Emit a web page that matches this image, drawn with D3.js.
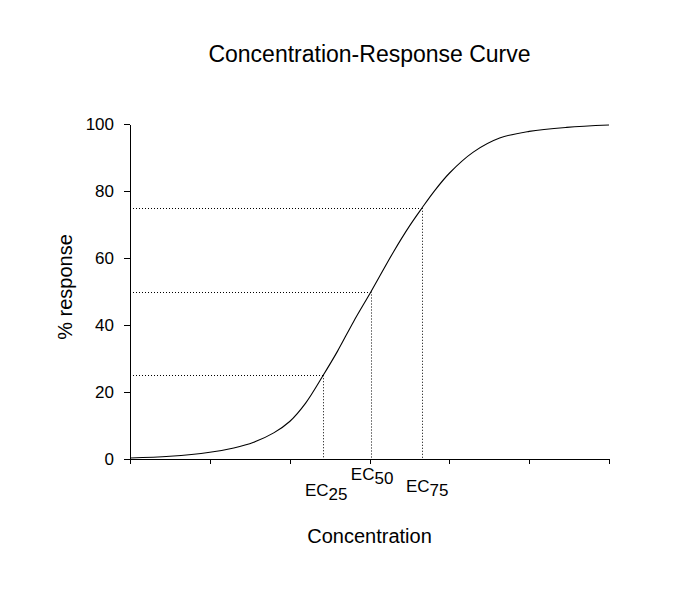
<!DOCTYPE html>
<html>
<head>
<meta charset="utf-8">
<script src="https://cdn.jsdelivr.net/npm/d3@7"></script>
<style>
  body { margin: 0; background: #fff; }
  text { font-family: "Liberation Sans", Arial, sans-serif; fill: #000; }
</style>
</head>
<body>
<div id="chart"></div>
<script>
// Valeurs
const concentration = [0, 0.5, 1, 1.3, 1.55, 1.8, 2, 2.2, 2.42, 2.6, 2.8, 3.02, 3.3, 3.5, 3.66, 3.8, 4, 4.3, 4.63, 5, 5.47, 6];
const response = [0.3, 0.8, 2.0, 3.3, 5.0, 7.8, 11.2, 16.7, 25, 32.2, 41, 50, 61.8, 69.5, 75, 79.6, 85.3, 91.6, 95.8, 97.8, 99.0, 99.7];

const ecNames = ['25', '50', '75'];
const ecConc = [2.42, 3.02, 3.66];
const ecResp = [25, 50, 75];

const yTicks = [0, 20, 40, 60, 80, 100];
const xTicks = [0, 1, 2, 3, 4, 5, 6];

const width = 699, height = 598;

const svg = d3.select('#chart')
    .append('svg')
    .attr('width', width)
    .attr('height', height);

// Echelles
const x = d3.scaleLinear().domain([0, 6]).range([130, 609]);
const y = d3.scaleLinear().domain([0, 100]).range([459, 124]);

// Titre
svg.append('text')
    .attr('x', 369.5)
    .attr('y', 61.5)
    .attr('text-anchor', 'middle')
    .style('font-size', '23px')
    .text('Concentration-Response Curve');

// Axe Y
const yAxis = svg.append('g')
    .attr('transform', `translate(${x(0)},0)`)
    .call(d3.axisLeft(y).tickValues(yTicks).tickSize(6).tickPadding(10).tickSizeOuter(0));
yAxis.selectAll('text').style('font-size', '17px').attr('dy', '0.35em');

// Axe X (sans libellés)
const xAxis = svg.append('g')
    .attr('transform', `translate(0,${y(0)})`)
    .call(d3.axisBottom(x).tickValues(xTicks).tickSize(5).tickFormat('').tickSizeOuter(0));

svg.selectAll('.domain, .tick line')
    .attr('stroke', '#000')
    .attr('stroke-width', 1)
    .attr('shape-rendering', 'crispEdges');

// Titres des axes
svg.append('text')
    .attr('transform', 'translate(72,287) rotate(-90)')
    .attr('text-anchor', 'middle')
    .style('font-size', '20px')
    .text('% response');

svg.append('text')
    .attr('x', 369.5)
    .attr('y', 543)
    .attr('text-anchor', 'middle')
    .style('font-size', '20px')
    .text('Concentration');

// Lignes pointillées EC
const ec = ecNames.map((n, i) => ({ name: n, c: ecConc[i], r: ecResp[i] }));

svg.selectAll('.ec-h')
    .data(ec)
    .enter()
    .append('line')
    .attr('class', 'ec-h')
    .attr('x1', x(0) + 3)
    .attr('x2', d => x(d.c))
    .attr('y1', d => Math.round(y(d.r)) + 0.5)
    .attr('y2', d => Math.round(y(d.r)) + 0.5)
    .attr('stroke', '#000')
    .attr('stroke-dasharray', '1,2');

svg.selectAll('.ec-v')
    .data(ec)
    .enter()
    .append('line')
    .attr('class', 'ec-v')
    .attr('x1', d => Math.round(x(d.c)) + 0.5)
    .attr('x2', d => Math.round(x(d.c)) + 0.5)
    .attr('y1', d => y(d.r))
    .attr('y2', y(0))
    .attr('stroke', '#000')
    .attr('stroke-dasharray', '1,2');

// Courbe
const points = concentration.map((c, i) => ({ c: c, r: response[i] }));
const line = d3.line()
    .x(d => x(d.c))
    .y(d => y(d.r))
    .curve(d3.curveCatmullRom.alpha(0.5));

svg.append('path')
    .datum(points)
    .attr('fill', 'none')
    .attr('stroke', '#000')
    .attr('stroke-width', 1.1)
    .attr('d', line);

// Etiquettes EC avec indice
const labelBase = { '25': 496, '50': 480, '75': 492 };
const labelShift = { '25': 3, '50': 1, '75': 5 };
const labels = svg.selectAll('.ec-label')
    .data(ec)
    .enter()
    .append('text')
    .attr('class', 'ec-label')
    .attr('x', d => x(d.c) + labelShift[d.name])
    .attr('y', d => labelBase[d.name])
    .attr('text-anchor', 'middle')
    .style('font-size', '17px');

labels.append('tspan').text('EC');
labels.append('tspan').attr('dy', 4).text(d => d.name);
</script>
</body>
</html>
